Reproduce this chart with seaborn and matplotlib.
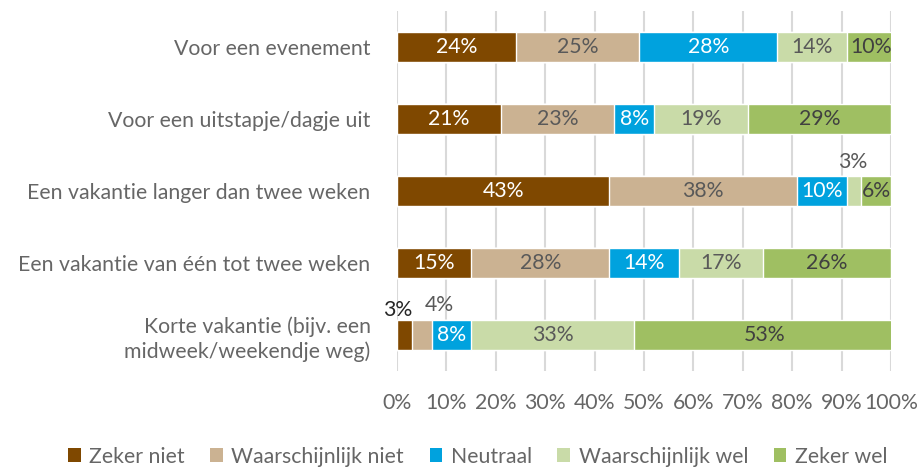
import matplotlib
matplotlib.use("Agg")
import matplotlib.pyplot as plt
import seaborn as sns
import numpy as np
import pandas as pd
from matplotlib.patches import Patch

categories = ["Voor een evenement",
              "Voor een uitstapje/dagje uit",
              "Een vakantie langer dan twee weken",
              "Een vakantie van één tot twee weken",
              "Korte vakantie (bijv. een\nmidweek/weekendje weg)"]
series = ["Zeker niet", "Waarschijnlijk niet", "Neutraal", "Waarschijnlijk wel", "Zeker wel"]
zeker_niet = [24, 21, 43, 15, 3]
waarsch_niet = [25, 23, 38, 28, 4]
neutraal = [28, 8, 10, 14, 8]
waarsch_wel = [14, 19, 3, 17, 33]
zeker_wel = [10, 29, 6, 26, 53]
tick_labels = ["0%", "10%", "20%", "30%", "40%", "50%", "60%", "70%", "80%", "90%", "100%"]

colors = ["#7F4800", "#CBB292", "#00A2DE", "#C9DBA8", "#9FBF62"]
text_colors = ["white", "#595959", "white", "#595959", "#404040"]

values = np.array([zeker_niet, waarsch_niet, neutraal, waarsch_wel, zeker_wel], dtype=float)
cum = np.cumsum(values, axis=0)

sns.set_theme(style="white")
plt.rcParams['font.family'] = ['Lato', 'DejaVu Sans']
FS = 15.3

fig = plt.figure(figsize=(9.22, 4.67), dpi=100)
ax = fig.add_axes([397/922, 1-371/467, 494/922, 360/467])

# draw cumulative bars from the last series backwards so they stack
for i in range(len(series)-1, -1, -1):
    df = pd.DataFrame({"cat": categories, "val": cum[i]})
    sns.barplot(data=df, x="val", y="cat", orient="h", color=colors[i],
                saturation=1, width=0.42, ax=ax, zorder=2)

ax.set_xlim(0, 100)
ax.set_ylim(4.5, -0.5)
ax.set_xticks(np.arange(0, 101, 10))
ax.set_xticklabels(tick_labels)
ax.grid(axis="x", color="#D9D9D9", linewidth=1.5, zorder=0)
ax.set_axisbelow(True)
for s in ax.spines.values():
    s.set_visible(False)
ax.set_xlabel("")
ax.set_ylabel("")
ax.tick_params(axis="x", labelsize=FS, labelcolor="#666666", pad=16, length=0)
ax.tick_params(axis="y", labelsize=FS, labelcolor="#666666", pad=19, length=0)
for t in ax.get_yticklabels():
    t.set_linespacing(1.25)

# value labels
for i in range(len(series)):
    for j in range(len(categories)):
        v = values[i, j]
        start = cum[i, j] - v
        center = start + v / 2
        if v >= 5:
            ax.text(center, j, f"{int(v)}%", ha="center", va="center",
                    fontsize=FS, color=text_colors[i], zorder=5)
# small labels placed above bars
ax.text(92.3, 2 - 0.40, f"{int(values[3, 2])}%", ha="center",
        va="center", fontsize=FS, color="#595959")
ax.text(0.2, 4 - 0.35, f"{int(values[0, 4])}%", ha="center", va="center",
        fontsize=FS, color="#262626", clip_on=False)
ax.text(8.5, 4 - 0.42, f"{int(values[1, 4])}%", ha="center", va="center",
        fontsize=FS, color="#595959")

handles = [Patch(facecolor=c, edgecolor="none") for c in colors]
fig.legend(handles, series, loc="center", bbox_to_anchor=(0.518, 0.022), ncol=5,
           frameon=False, fontsize=FS, labelcolor="#666666", handlelength=0.6,
           handleheight=0.6, handletextpad=0.4, columnspacing=1.2)

fig.savefig("out.png", dpi=100)
